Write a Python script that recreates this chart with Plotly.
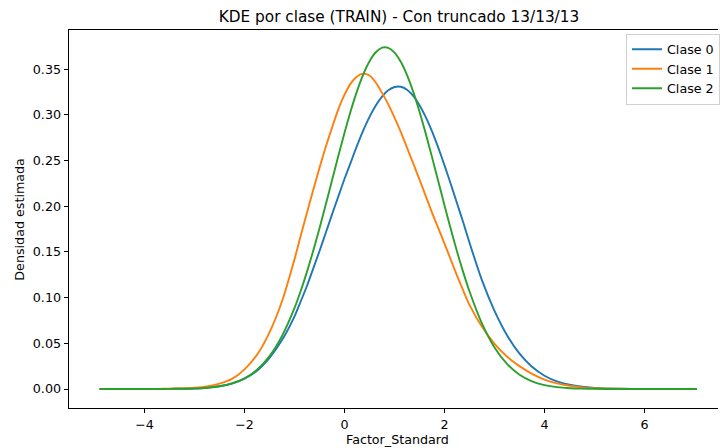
import plotly.graph_objects as go

# Evaluation grid of the factor (finer around the peaks) and estimated densities
factor_x = [-4.9, -4.5, -4.0, -3.75, -3.5, -3.25, -3.0, -2.75, -2.5, -2.25,
            -2.0, -1.75, -1.5, -1.25,
            -1.0, -0.875, -0.75, -0.625, -0.5, -0.375, -0.25, -0.125, 0.0, 0.125,
            0.25, 0.375, 0.5, 0.625, 0.75, 0.875, 1.0, 1.125, 1.25, 1.375,
            1.5, 1.625, 1.75, 1.875, 2.0, 2.125, 2.25, 2.375, 2.5,
            2.75, 3.0, 3.25, 3.5, 3.75, 4.0, 4.25, 4.5, 4.75, 5.0,
            5.5, 6.0, 6.5, 7.05]

clase_0 = [0.0, 0.0, 0.0, 0.0, 0.0001, 0.0003, 0.0006, 0.0014, 0.0030, 0.0060,
           0.0114, 0.0200, 0.0340, 0.0535,
           0.0795, 0.0960, 0.1130, 0.1320, 0.1510, 0.1710, 0.1910, 0.2105, 0.2300, 0.2480,
           0.2662, 0.2830, 0.2978, 0.3102, 0.3200, 0.3268, 0.3304, 0.3307, 0.3275, 0.3206,
           0.3105, 0.2975, 0.2818, 0.2640, 0.2447, 0.2243, 0.2033, 0.1822, 0.1600,
           0.1188, 0.0855, 0.0588, 0.0386, 0.0243, 0.0145, 0.0083, 0.0046, 0.0024, 0.0012,
           0.0003, 0.0, 0.0, 0.0]

clase_1 = [0.0, 0.0, 0.0, 0.0001, 0.0003, 0.0007, 0.0014, 0.0028, 0.0058, 0.0110,
           0.0215, 0.0375, 0.0620, 0.0960,
           0.1420, 0.1680, 0.1930, 0.2180, 0.2420, 0.2650, 0.2860, 0.3060, 0.3220, 0.3344,
           0.3420, 0.3450, 0.3430, 0.3353, 0.3240, 0.3114, 0.2970, 0.2813, 0.2640, 0.2468,
           0.2290, 0.2111, 0.1930, 0.1760, 0.1590, 0.1415, 0.1240, 0.1077, 0.0920,
           0.0680, 0.0495, 0.0355, 0.0250, 0.0165, 0.0103, 0.0062, 0.0035, 0.0018, 0.0009,
           0.0002, 0.0, 0.0, 0.0]

clase_2 = [0.0, 0.0, 0.0, 0.0, 0.0001, 0.0003, 0.0006, 0.0014, 0.0030, 0.0061,
           0.0117, 0.0210, 0.0359, 0.0580,
           0.0887, 0.1075, 0.1284, 0.1514, 0.1760, 0.2018, 0.2283, 0.2548, 0.2804, 0.3044,
           0.3259, 0.3442, 0.3586, 0.3684, 0.3734, 0.3733, 0.3681, 0.3580, 0.3435, 0.3251,
           0.3034, 0.2794, 0.2537, 0.2273, 0.2008, 0.1750, 0.1504, 0.1276, 0.1067,
           0.0716, 0.0455, 0.0274, 0.0156, 0.0084, 0.0043, 0.0021, 0.0009, 0.0004, 0.0002,
           0.0, 0.0, 0.0, 0.0]

series_names = ["Clase 0", "Clase 1", "Clase 2"]
series_values = [clase_0, clase_1, clase_2]
series_colors = ["#1f77b4", "#ff7f0e", "#2ca02c"]

x_ticks = [-4, -2, 0, 2, 4, 6]
y_ticks = [0.00, 0.05, 0.10, 0.15, 0.20, 0.25, 0.30, 0.35]

FONT = "DejaVu Sans"
TICK_SIZE = 12.7

fig = go.Figure()
for name, values, color in zip(series_names, series_values, series_colors):
    fig.add_trace(go.Scatter(
        x=factor_x, y=values, mode="lines", name=name,
        line=dict(color=color, width=1.9, shape="spline", smoothing=0.6),
        hoverinfo="skip",
    ))

axis_common = dict(
    showgrid=False, zeroline=False, showline=True, linecolor="#000000",
    linewidth=1, ticks="outside", ticklen=4.4, tickwidth=1, tickcolor="#000000",
    tickfont=dict(family=FONT, size=TICK_SIZE, color="#000000"),
)

fig.update_layout(
    width=720, height=448,
    margin=dict(l=69, r=0, t=30, b=40),
    paper_bgcolor="white", plot_bgcolor="white",
    font=dict(family=FONT, size=TICK_SIZE, color="#000000"),
    title=dict(
        text="KDE por clase (TRAIN) - Con truncado 13/13/13",
        font=dict(family=FONT, size=15.3, color="#000000"),
        xref="container", x=399 / 720, xanchor="center",
        yref="container", y=1 - 17 / 448, yanchor="middle",
    ),
    xaxis=dict(range=[-5.511, 7.470], tickvals=x_ticks, mirror=True,
               **axis_common),
    yaxis=dict(range=[-0.02079, 0.39278], tickvals=y_ticks, tickformat=".2f",
               **axis_common),
    legend=dict(
        x=(628 - 69) / 651, y=(408 - 33.5) / 378, xanchor="left", yanchor="top",
        bgcolor="rgba(255,255,255,0.8)", bordercolor="#d0d0d0", borderwidth=1,
        entrywidth=100, entrywidthmode="pixels",
        font=dict(family=FONT, size=TICK_SIZE, color="#000000"),
    ),
    annotations=[
        dict(text="Factor_Standard", xref="x", x=1.069, yref="paper",
             y=(408 - 439) / 378, xanchor="center", yanchor="middle",
             showarrow=False, font=dict(family=FONT, size=TICK_SIZE)),
        dict(text="Densidad estimada", xref="paper", x=(18.5 - 69) / 651,
             yref="paper", y=0.5, xanchor="center", yanchor="middle",
             textangle=-90, showarrow=False,
             font=dict(family=FONT, size=TICK_SIZE)),
    ],
)

fig.write_html("out.html", config={"displayModeBar": False})
